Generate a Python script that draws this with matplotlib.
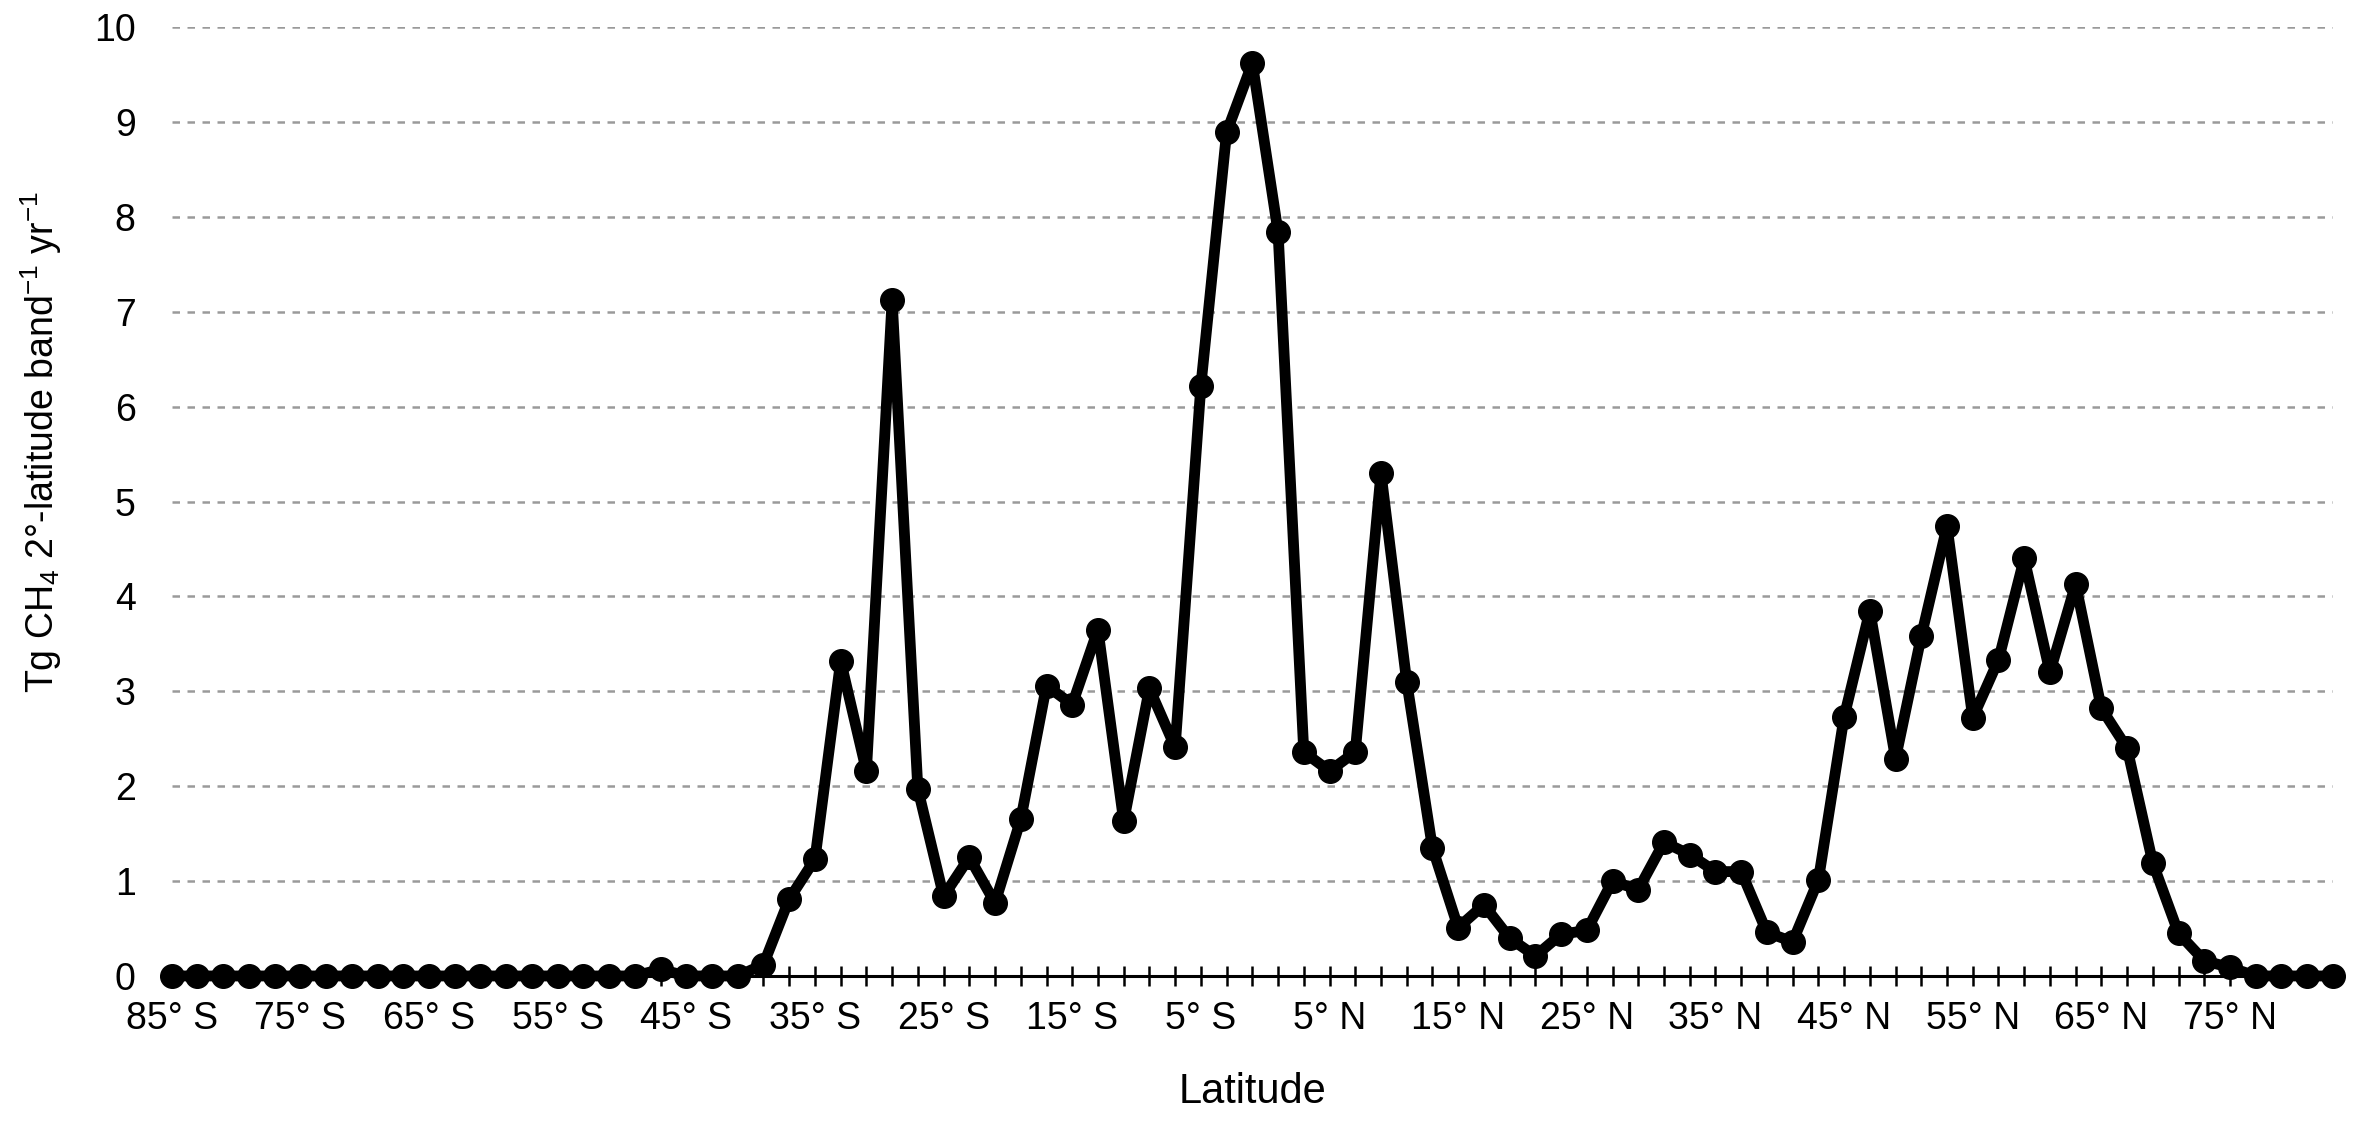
import matplotlib
matplotlib.use("Agg")
import matplotlib.pyplot as plt
import numpy as np

plt.rcParams['font.family'] = ['Liberation Sans', 'DejaVu Sans']
plt.rcParams['mathtext.fontset'] = 'custom'
plt.rcParams['mathtext.rm'] = 'Liberation Sans'
plt.rcParams['mathtext.it'] = 'Liberation Sans'
plt.rcParams['mathtext.bf'] = 'Liberation Sans'

# Latitude band centres, 85° S to 83° N in 2° steps
latitudes = list(range(-85, 84, 2))

emissions = [
    0, 0, 0, 0, 0, 0, 0, 0, 0, 0,          # 85S-67S
    0, 0, 0, 0, 0, 0, 0, 0, 0, 0.07,       # 65S-47S
    0, 0, 0, 0.12, 0.81, 1.23, 3.32, 2.16, 7.12, 1.97,   # 45S-27S
    0.84, 1.25, 0.77, 1.65, 3.06, 2.86, 3.65, 1.63, 3.03, 2.41,  # 25S-7S
    6.22, 8.89, 9.62, 7.84, 2.36, 2.16, 2.36, 5.30, 3.10, 1.35,  # 5S-13N
    0.51, 0.75, 0.40, 0.21, 0.44, 0.48, 1.00, 0.91, 1.41, 1.28,  # 15N-33N
    1.10, 1.10, 0.46, 0.36, 1.01, 2.73, 3.85, 2.29, 3.58, 4.74,  # 35N-53N
    2.72, 3.33, 4.40, 3.20, 4.13, 2.82, 2.40, 1.19, 0.45, 0.16,  # 55N-73N
    0.09, 0, 0, 0, 0,                       # 75N-83N
]

def lat_label(v):
    return f"{abs(v)}° S" if v < 0 else f"{v}° N"

tick_labels = [lat_label(v) if (v + 85) % 10 == 0 else "" for v in latitudes]

y_ticks = list(range(0, 11))

fig = plt.figure(figsize=(23.62, 11.27), dpi=100)
ax = fig.add_axes([0.0727, 0.134, 0.9877 - 0.0727, 0.976 - 0.134])

x = np.arange(len(latitudes))
ax.plot(x, emissions, color='black', linewidth=7.8, marker='o',
        markersize=17, markerfacecolor='black', markeredgecolor='black',
        zorder=3, clip_on=False, solid_joinstyle='round')

ax.set_xlim(0, len(latitudes) - 1)
ax.set_ylim(0, 10)
ax.set_yticks(y_ticks)
ax.set_xticks(x)
ax.set_xticklabels(tick_labels)

ax.yaxis.grid(True, color='#9a9a9a', linestyle=(0, (3, 3)), linewidth=1.8)
ax.set_axisbelow(True)

for s in ['top', 'right', 'left']:
    ax.spines[s].set_visible(False)
ax.spines['bottom'].set_linewidth(2.2)
ax.spines['bottom'].set_zorder(2)

ax.tick_params(axis='y', length=0, pad=26, labelsize=27)
ax.tick_params(axis='x', direction='inout', length=14, width=1.8,
               pad=11, labelsize=27)

ax.set_ylabel(r'Tg CH$_4$ 2°-latitude band$^{-1}$ yr$^{-1}$', fontsize=27)
ax.set_xlabel('Latitude', fontsize=30)
ax.yaxis.set_label_coords(-0.050, 0.563)
ax.xaxis.set_label_coords(0.5, -0.101)

fig.savefig('out.png', dpi=100)
